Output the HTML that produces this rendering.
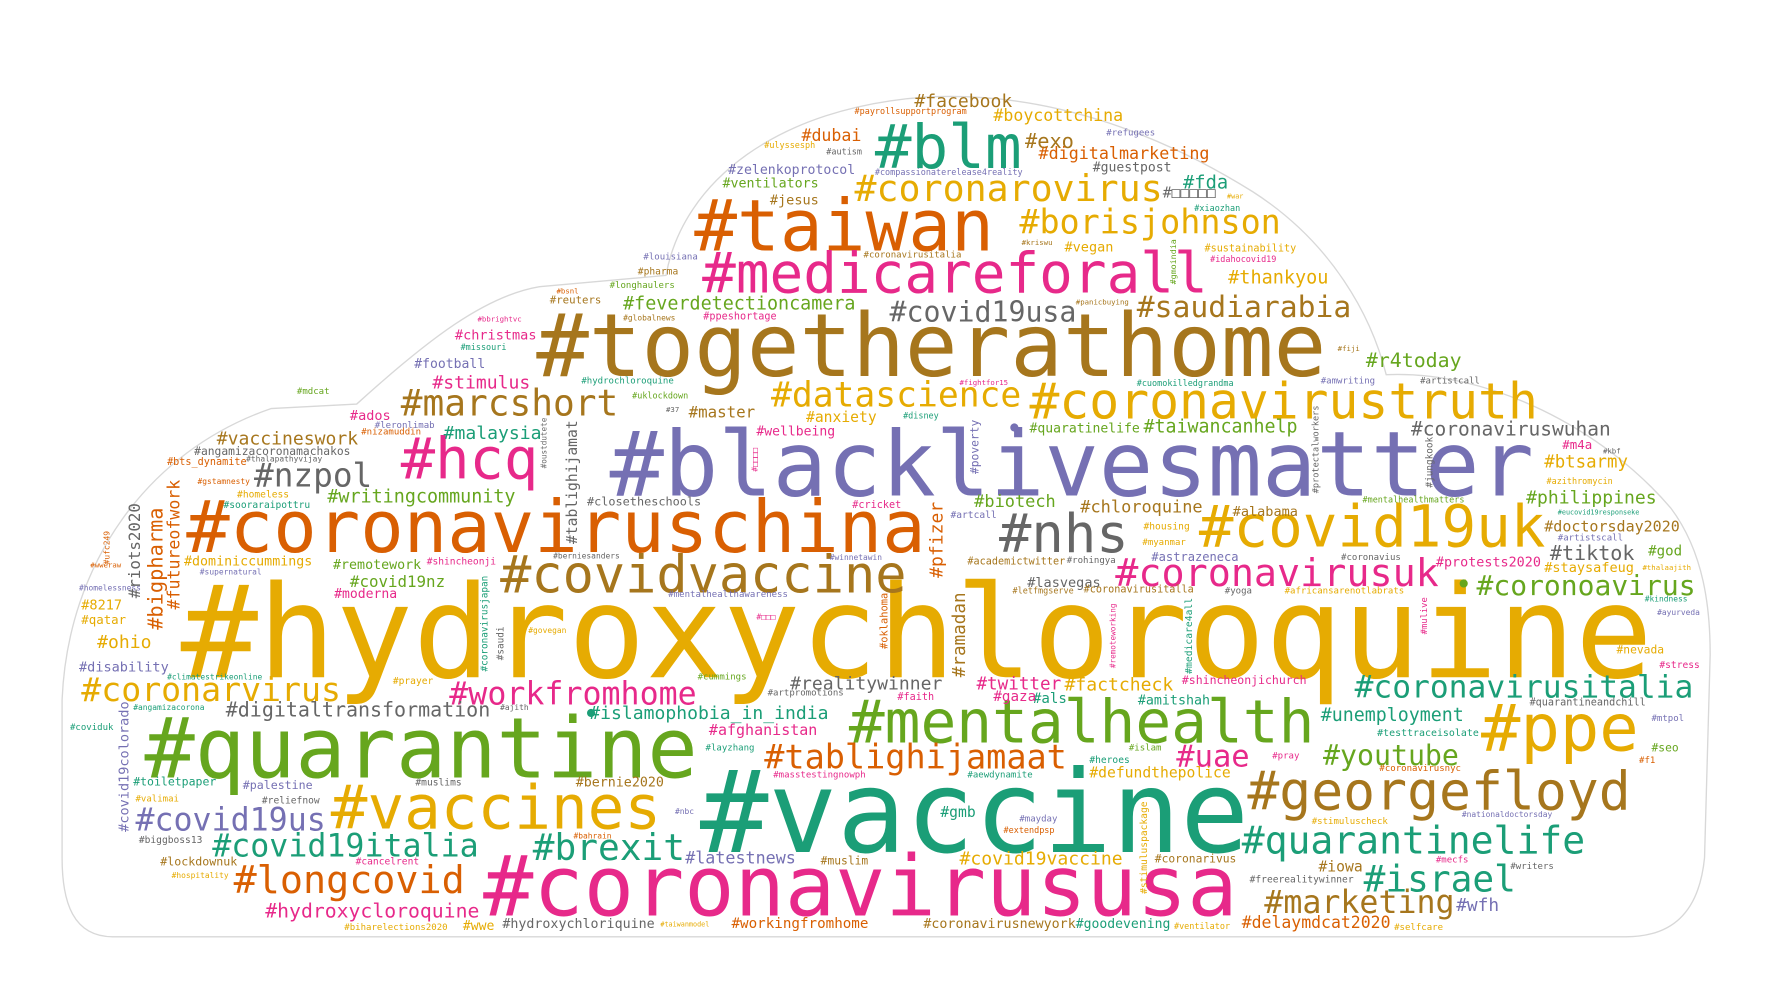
<!DOCTYPE html>
<html><head><meta charset="utf-8"><style>
html,body{margin:0;padding:0;background:#fff;}
#wrap{position:relative;width:1770px;height:1000px;overflow:hidden;background:#fff;}
#stage{position:absolute;left:0;top:0;width:1568px;height:886px;transform-origin:0 0;transform:scale(1.12883,1.12867);}
#stage span{position:absolute;white-space:pre;line-height:1;font-family:"DejaVu Sans Mono","Liberation Mono","Noto Sans CJK SC",monospace;}
</style></head><body>
<div id="wrap">
<div id="stage">
<svg width="1568" height="886" style="position:absolute;left:0;top:0">
<path d="M100 830 C65 830 55 800 55 760 L55 620 C60 500 130 400 240 362 L316 358 C380 300 430 262 478 254 L590 244 C605 160 690 95 820 86 C930 80 1030 120 1110 170 C1180 215 1215 280 1228 332 C1320 328 1420 380 1480 450 C1510 490 1515 540 1515 580 L1510 760 C1505 810 1480 830 1440 830 Z" fill="none" stroke="#d8d8d8" stroke-width="1.2"/>
</svg>
</div></div>
<script>
const C={t:'#1b9e77',o:'#d95f02',p:'#7570b3',k:'#e7298a',g:'#66a61e',y:'#e6ab02',b:'#a6761d',r:'#666666'};
// [text, x, baseline, fontSize, color]
const words=[
['#hydroxychloroquine',160,600,114,'y'],['#vaccine',620,755,101,'t'],['#blacklivesmatter',540,440,80,'p'],
['#togetherathome',475,335,77.5,'b'],['#quarantine',128,690,74,'g'],['#coronavirususa',428,812,74,'k'],
['#coronaviruschina',165,490,64,'o'],['#taiwan',615,222,63,'o'],['#blm',775,150,54,'t'],
['#mentalhealth',752,660,52.7,'g'],['#ppe',1312,665,58,'y'],['#covid19uk',1062,485,51,'y'],
['#vaccines',293,735,54,'y'],['#medicareforall',622,260,49.6,'k'],['#hcq',355,425,50.6,'k'],
['#nhs',885,490,47.7,'r'],['#coronavirustruth',912,372,44,'y'],['#covidvaccine',443,525,46,'b'],
['#georgefloyd',1105,718,47,'b'],['#coronavirusuk',988,520,34,'k'],['#coronarovirus',757,178,32.4,'y'],
['#borisjohnson',903,208,29.6,'y'],['#quarantinelife',1100,757,33.7,'t'],['#israel',1208,790,32,'t'],
['#covid19italia',188,760,28,'t'],['#brexit',472,762,32,'t'],['#longcovid',207,792,34,'o'],
['#covid19us',120,737,28,'p'],['#tablighijamaat',677,682,29.7,'o'],['#marcshort',355,368,32,'b'],
['#nzpol',225,432,29,'r'],['#coronarvirus',72,622,29.4,'y'],['#workfromhome',398,625,28,'k'],
['#datascience',683,362,30.7,'y'],['#saudiarabia',1007,282,26.3,'b'],['#covid19usa',788,285,25,'r'],
['#coronavirusitalia',1200,618,27.7,'t'],['#coronoavirus',1308,528,24.8,'g'],['#marketing',1120,810,28,'b'],
['#uae',1042,680,27,'k'],['#youtube',1172,678,25,'g'],['#twitter',865,612,15.6,'k'],
['#factcheck',943,613,16,'y'],['#realitywinner',700,612,16,'r'],['#digitaltransformation',200,637,17.7,'r'],
['#islamophobia_in_india',522,638,16,'t'],['#afghanistan',628,652,13.3,'k'],['#facebook',810,96,16,'b'],
['#boycottchina',880,108,14.7,'y'],['#dubai',710,126,14.7,'o'],['#exo',908,132,18,'b'],
['#digitalmarketing',920,143,14.8,'o'],['#guestpost',968,153,11.6,'r'],['#zelenkoprotocol',645,155,11.7,'p'],
['#ventilators',640,167,11.8,'g'],['#fda',1048,168,16.6,'t'],['#jesus',682,181,12,'b'],
['#thankyou',1088,252,16.4,'y'],['#feverdetectioncamera',552,275,16.3,'g'],['#r4today',1210,327,17.6,'g'],
['#coronaviruswuhan',1250,388,17.3,'r'],['#btsarmy',1368,415,15.4,'y'],['#philippines',1352,447,16,'g'],
['#doctorsday2020',1368,472,13.3,'b'],['#tiktok',1373,497,17.8,'r'],['#god',1460,493,12.5,'g'],
['#staysafeug',1368,507,12,'y'],['#protests2020',1272,503,11.9,'k'],['#quaratinelife',912,384,11.6,'g'],
['#taiwancanhelp',1013,384,16.2,'g'],['#biotech',863,450,15,'g'],['#chloroquine',957,455,15,'b'],
['#alabama',1092,457,12,'b'],['#astrazeneca',1020,498,10.7,'p'],['#malaysia',393,390,16,'t'],
['#vaccineswork',192,395,16,'b'],['#writingcommunity',290,446,16.3,'g'],['#stimulus',383,345,16,'k'],
['#football',367,327,11.6,'p'],['#christmas',403,301,12,'k'],['#master',610,371,14,'b'],
['#anxiety',714,375,13,'y'],['#wellbeing',670,387,11.6,'k'],['#dominiccummings',163,502,11.8,'y'],
['#remotework',295,505,11.8,'g'],['#covid19nz',310,521,14,'g'],['#moderna',296,531,11.6,'k'],
['#ohio',86,575,16,'y'],['#disability',70,595,12,'p'],['#8217',72,540,12,'y'],['#qatar',72,553,11,'y'],
['#unemployment',1170,640,16.2,'t'],['#testtraceisolate',1220,653,8.8,'t'],['#amitshah',1008,625,11.8,'t'],
['#als',915,624,12.5,'t'],['#gaza',880,622,12.6,'k'],['#faith',795,622,9,'k'],
['#shincheonjichurch',1047,608,10.2,'k'],['#defundthepolice',965,690,13,'y'],['#gmb',833,725,13,'t'],
['#covid19vaccine',850,767,16,'y'],['#latestnews',607,767,14.8,'p'],['#hydroxycloroquine',235,815,17.5,'k'],
['#workingfromhome',648,823,12.6,'o'],['#coronavirusnewyork',818,823,11.8,'b'],['#goodevening',953,823,11.6,'t'],
['#delaymdcat2020',1100,823,14.6,'o'],['#wfh',1290,807,15.8,'p'],['#iowa',1168,773,13,'b'],
['#hydroxychloriquine',445,823,11.8,'r'],['#wwe',410,825,11.6,'y'],['#muslim',727,767,10,'b'],
['#lockdownuk',142,768,10.3,'b'],['#toiletpaper',118,698,10.2,'t'],['#palestine',215,700,10.3,'p'],
['#bernie2020',510,698,11.8,'b'],['#ados',310,372,12,'k'],['#mdcat',263,350,8,'g'],
['#leronlimab',332,380,8,'p'],['#nizamuddin',320,386,8,'o'],['#angamizacoronamachakos',172,404,10,'r'],
['#bts_dynamite',148,414,9,'o'],['#thalapathyvijay',218,410,7,'r'],['#gstamnesty',175,430,7,'o'],
['#homeless',210,442,8.5,'y'],['#sooraraipottru',198,451,8.5,'t'],['#closetheschools',520,449,10.5,'r'],
['#cricket',755,452,9,'k'],['#artcall',842,460,8.5,'p'],['#housing',1013,470,8.5,'y'],['#myanmar',1012,484,8,'y'],
['#academictwitter',857,502,9,'b'],['#rohingya',945,500,8,'r'],['#coronavius',1188,497,8,'r'],
['#lasvegas',910,520,12,'r'],['#letfmgserve',897,526,7.5,'b'],['#coronavirusitalla',960,527,9,'b'],
['#yoga',1085,527,8,'r'],['#africansarenotlabrats',1138,527,8,'y'],['#kindness',1457,534,7,'t'],
['#ayurveda',1468,546,7,'p'],['#nevada',1432,580,10,'y'],['#stress',1470,593,8.5,'k'],
['#quarantineandchill',1355,627,9,'r'],['#mtpol',1463,640,8,'p'],['#seo',1463,667,10,'g'],['#f1',1452,677,8,'o'],
['#coronavirusnyc',1222,684,8,'o'],['#pray',1127,673,8,'k'],['#islam',1000,666,8,'g'],['#heroes',965,677,8.5,'t'],
['#aewdynamite',857,690,8,'t'],['#masstestingnowph',685,690,8,'k'],['#layzhang',625,666,8,'t'],
['#stimuluscheck',1162,731,8,'y'],['#nationaldoctorsday',1295,725,7,'p'],['#mayday',903,729,8,'p'],
['#extendpsp',889,738,7.5,'o'],['#nbc',598,722,7,'p'],['#bahrain',508,744,7,'o'],['#coronarivus',1023,765,10,'b'],
['#mecfs',1272,765,8,'k'],['#writers',1338,771,8,'r'],['#freerealitywinner',1107,783,8.5,'r'],
['#selfcare',1235,825,8,'y'],['#ventilator',1040,823,7.5,'y'],['#taiwanmodel',585,822,6,'y'],
['#biharelections2020',305,825,8,'y'],['#hospitality',152,779,7,'y'],['#cancelrent',315,767,8.5,'k'],
['#biggboss13',123,748,8.5,'r'],['#reliefnow',232,713,8.5,'r'],['#valimai',120,711,8,'y'],['#muslims',368,697,8.5,'r'],
['#angamizacorona',118,630,7,'t'],['#coviduk',62,648,8,'t'],['#climatestrikeonline',148,603,7,'t'],
['#prayer',348,607,8.5,'y'],['#cummings',618,603,8,'g'],['#artpromotions',680,617,8,'r'],['#ajith',443,630,7,'r'],
['#govegan',468,562,7,'y'],['#mentalhealthawareness',592,530,8,'p'],['#winnetawin',735,497,7,'p'],
['#berniesanders',490,496,7,'r'],['#shincheonji',378,501,8.5,'k'],['#supernatural',177,510,7,'p'],
['#homelessness',70,524,7,'p'],['#wweraw',80,503,6.5,'o'],['#payrollsupportprogram',757,101,7.5,'o'],
['#refugees',980,121,8,'p'],['#ulyssesph',677,131,7.5,'y'],['#autism',732,137,7.5,'r'],
['#compassionaterelease4reality',775,155,7.5,'p'],['#\u25a1\u25a1\u25a1\u25a1\u25a1',1030,176,13,'r'],['#war',1087,177,6,'y'],
['#xiaozhan',1058,187,7.5,'t'],['#kriswu',905,217,6.5,'b'],['#vegan',943,223,12,'y'],['#sustainability',1067,225,9,'y'],
['#idahocovid19',1072,232,7.5,'k'],['#louisiana',570,231,8,'p'],['#coronavirusitalia',765,229,8,'b'],
['#pharma',565,244,8.5,'b'],['#longhaulers',540,256,8,'g'],['#bsnl',493,260,6.5,'o'],['#reuters',487,270,9.5,'b'],
['#globalnews',552,285,7,'b'],['#ppeshortage',623,285,9,'k'],['#panicbuying',953,270,6.5,'b'],
['#bbrightvc',423,285,6.5,'k'],['#missouri',408,310,7.5,'t'],['#fiji',1185,311,6.5,'b'],
['#hydrochloroquine',515,341,8,'t'],['#fightfor15',850,341,6.5,'k'],['#cuomokilledgrandma',1007,342,7.5,'t'],
['#amwriting',1170,341,8,'p'],['#artistcall',1258,341,8,'r'],['#uklockdown',560,353,7.5,'g'],['#37',590,365,6.5,'r'],
['#disney',800,371,7.5,'t'],['#m4a',1384,398,11,'k'],['#kbf',1420,402,6.5,'r'],['#azithromycin',1370,429,7.5,'y'],
['#mentalhealthmatters',1207,445,7.5,'g'],['#eucovid19responseke',1380,457,6,'t'],['#artistscall',1380,480,8,'p'],
['#thalaajith',1455,505,6.5,'y'],['#\u25a1\u25a1\u25a1',670,550,7,'k']
];
// vertical words: [text, xLeft, yBottom, fontSize, color]
const vwords=[
['#riots2020',113,530,14,'r'],['#bigpharma',130,558,18,'o'],['#futureofwork',148,540,14.7,'o'],
['#tablighijamat',501,482,13,'r'],['#pfizer',822,512,16,'o'],['#ramadan',843,600,15.6,'b'],
['#poverty',860,420,10,'p'],['#covid19colorado',104,737,12,'p'],['#stimuluspackage',1010,792,8.5,'y'],
['#protectalworkers',1162,437,7.6,'r'],['#coronavirusjapan',425,595,8.3,'t'],['#saudi',439,585,8.3,'r'],
['#oklahoma',779,575,9.2,'o'],['#remoteworking',983,592,6.8,'k'],['#medicare4all',1050,597,8.6,'t'],
['#mulive',1258,562,7.8,'k'],['#jungkook',1262,432,8.3,'r'],['#gmoindia',1036,252,7.4,'g'],
['#oustdutete',479,415,6.8,'r'],['#ufc249',92,500,7,'o'],['#\u25a1\u25a1\u25a1\u25a1',666,418,7,'k']
];
const stage=document.getElementById('stage');
function slug(s){return s.replace(/[^a-z0-9_]/gi,'')||'glyphs';}
words.forEach(w=>{
  const el=document.createElement('span');
  el.textContent=w[0];
  el.style.left=w[1]+'px';
  el.style.top=(w[2]-0.846*w[3])+'px';
  el.style.fontSize=w[3]+'px';
  el.style.color=C[w[4]];
  
  
  stage.appendChild(el);
});
vwords.forEach(w=>{
  const el=document.createElement('span');
  el.textContent=w[0];
  el.style.left=w[1]+'px';
  el.style.top=w[2]+'px';
  el.style.fontSize=w[3]+'px';
  el.style.color=C[w[4]];
  el.style.transformOrigin='0 0';
  el.style.transform='rotate(-90deg)';
  
  
  stage.appendChild(el);
});
// dots
[[1298,518,'g'],[957,683,'t'],[900,380,'p'],[525,633,'t']].forEach(d=>{
  const el=document.createElement('span');
  el.textContent='\u25cf';
  el.style.left=(d[0]-5)+'px';el.style.top=(d[1]-8)+'px';el.style.fontSize='12px';el.style.color=C[d[2]];
  
  
  stage.appendChild(el);
});
</script>
</body></html>
